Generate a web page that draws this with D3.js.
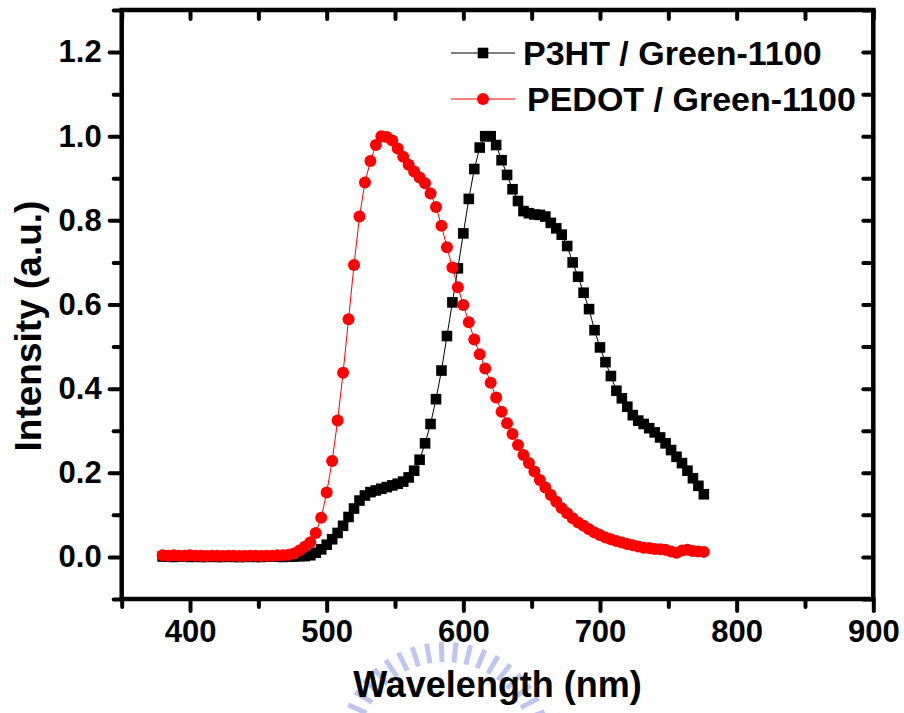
<!DOCTYPE html>
<html lang="en">
<head>
<meta charset="UTF-8">
<script src="https://d3js.org/d3.v7.min.js"></script>
<title>PL spectra</title>
<style>
    body { margin: 0; background: white; }
    svg { display: block; }
    .axis text {
        font-family: "Liberation Sans", Arial, sans-serif;
        font-weight: bold;
        font-size: 31px;
        fill: black;
    }
    .axis line { stroke: black; stroke-width: 4; stroke-linecap: round; }
    .axis path { display: none; }
    .title, .legend text {
        font-family: "Liberation Sans", Arial, sans-serif;
        font-weight: bold;
        fill: black;
    }
</style>
</head>
<body>
<svg></svg>
<script>
// wavelength grid (nm)
const wavelength = [
    380, 384, 388, 392, 396, 400, 404, 408, 412, 416, 420, 424, 428, 432, 436, 440, 444, 448, 452, 456,
    460, 464, 468, 472, 476, 480, 484, 488, 492, 496, 500, 504, 508, 512, 516, 520, 524, 528, 532, 536,
    540, 544, 548, 552, 556, 560, 564, 568, 572, 576, 580, 584, 588, 592, 596, 600, 604, 608, 612, 616,
    620, 624, 628, 632, 636, 640, 644, 648, 652, 656, 660, 664, 668, 672, 676, 680, 684, 688, 692, 696,
    700, 704, 708, 712, 716, 720, 724, 728, 732, 736, 740, 744, 748, 752, 756, 760, 764, 768, 772, 776
];
// P3HT / Green-1100 (black squares)
const p3ht = [
    0.001, 0.001, 0.000, 0.001, 0.001, 0.000, 0.001, 0.000, 0.000, 0.001, 0.000, 0.000, 0.001, 0.000, 0.000, 0.000, 0.001, 0.000, 0.000, 0.001,
    0.001, 0.001, 0.000, 0.001, 0.001, 0.002, 0.002, 0.004, 0.010, 0.018, 0.029, 0.042, 0.057, 0.074, 0.095, 0.115, 0.134, 0.146, 0.154, 0.158,
    0.162, 0.166, 0.170, 0.174, 0.179, 0.189, 0.205, 0.231, 0.270, 0.316, 0.375, 0.443, 0.525, 0.605, 0.686, 0.769, 0.851, 0.922, 0.973, 1.000,
    1.000, 0.979, 0.943, 0.908, 0.874, 0.846, 0.822, 0.817, 0.814, 0.813, 0.809, 0.794, 0.781, 0.766, 0.739, 0.700, 0.666, 0.628, 0.589, 0.539,
    0.498, 0.463, 0.430, 0.395, 0.377, 0.357, 0.337, 0.324, 0.316, 0.306, 0.296, 0.284, 0.270, 0.254, 0.238, 0.223, 0.205, 0.187, 0.169, 0.149
];
// PEDOT / Green-1100 (red circles)
const pedot = [
    0.004, 0.003, 0.004, 0.003, 0.003, 0.004, 0.003, 0.003, 0.002, 0.003, 0.003, 0.002, 0.003, 0.003, 0.002, 0.002, 0.003, 0.003, 0.002, 0.003,
    0.003, 0.004, 0.004, 0.005, 0.008, 0.015, 0.024, 0.035, 0.057, 0.093, 0.153, 0.228, 0.324, 0.438, 0.565, 0.694, 0.809, 0.890, 0.941, 0.979,
    1.000, 0.998, 0.990, 0.971, 0.951, 0.932, 0.916, 0.902, 0.888, 0.864, 0.832, 0.787, 0.736, 0.688, 0.641, 0.599, 0.558, 0.517, 0.482, 0.448,
    0.414, 0.379, 0.345, 0.318, 0.292, 0.266, 0.242, 0.223, 0.203, 0.183, 0.165, 0.147, 0.131, 0.116, 0.104, 0.092, 0.082, 0.074, 0.066, 0.058,
    0.052, 0.046, 0.042, 0.038, 0.034, 0.031, 0.028, 0.025, 0.022, 0.021, 0.019, 0.018, 0.017, 0.013, 0.010, 0.015, 0.017, 0.014, 0.013, 0.012
];
const seriesNames = ["P3HT / Green-1100", "PEDOT / Green-1100"];

const xTicks = [400, 500, 600, 700, 800, 900];
const xMinor = [350, 450, 550, 650, 750, 850];
const yTicks = [0.0, 0.2, 0.4, 0.6, 0.8, 1.0, 1.2];
const yMinor = [-0.1, 0.1, 0.3, 0.5, 0.7, 0.9, 1.1, 1.3];

const w = 904;
const h = 713;
const plotLeft = 121.7, plotRight = 873.3, plotTop = 10, plotBottom = 599;

const svg = d3.select("svg").attr("width", w).attr("height", h);

// faint watermark behind the x title
const wm = svg.append("g").attr("transform", "translate(445,748)");
d3.range(196, 346, 8).forEach(function(a){
    const r = a * Math.PI / 180;
    wm.append("line")
      .attr("x1", 86 * Math.cos(r)).attr("y1", 86 * Math.sin(r))
      .attr("x2", 106 * Math.cos(r)).attr("y2", 106 * Math.sin(r))
      .attr("stroke", "#a3ade9").attr("stroke-width", 5).attr("opacity", 0.7);
});

const x = d3.scaleLinear().domain([350, 900]).range([plotLeft, plotRight]);
const y = d3.scaleLinear().domain([-0.1, 1.3]).range([plotBottom, plotTop]);

// bottom axis
svg.append("g").attr("class", "axis").attr("transform", "translate(0," + plotBottom + ")")
   .call(d3.axisBottom(x).tickValues(xTicks).tickSize(12).tickPadding(9).tickFormat(d3.format("d")));
svg.append("g").attr("class", "axis").attr("transform", "translate(0," + plotBottom + ")")
   .call(d3.axisBottom(x).tickValues(xMinor).tickSize(8).tickFormat(""));
// left axis
svg.append("g").attr("class", "axis").attr("transform", "translate(" + plotLeft + ",0)")
   .call(d3.axisLeft(y).tickValues(yTicks).tickSize(12).tickPadding(8).tickFormat(d3.format(".1f")));
svg.append("g").attr("class", "axis").attr("transform", "translate(" + plotLeft + ",0)")
   .call(d3.axisLeft(y).tickValues(yMinor).tickSize(8).tickFormat(""));
// top and right: inward ticks, no labels
svg.append("g").attr("class", "axis").attr("transform", "translate(0," + plotTop + ")")
   .call(d3.axisTop(x).tickValues(xTicks.concat(xMinor)).tickSize(-9).tickFormat(""));
svg.append("g").attr("class", "axis").attr("transform", "translate(" + plotRight + ",0)")
   .call(d3.axisRight(y).tickValues(yTicks.concat(yMinor)).tickSize(-10).tickFormat(""));

// frame
svg.append("rect")
   .attr("x", plotLeft).attr("y", plotTop)
   .attr("width", plotRight - plotLeft).attr("height", plotBottom - plotTop)
   .attr("fill", "none").attr("stroke", "black").attr("stroke-width", 4.5);

const line = d3.line().x((d) => x(d[0])).y((d) => y(d[1]));
const blackPts = wavelength.map((d, i) => [d, p3ht[i]]);
const redPts = wavelength.map((d, i) => [d, pedot[i]]);

// black squares
svg.append("path").datum(blackPts).attr("d", line)
   .attr("fill", "none").attr("stroke", "black").attr("stroke-width", 1);
svg.selectAll("rect.sq")
   .data(blackPts)
   .enter()
   .append("rect")
   .attr("class", "sq")
   .attr("x", (d) => x(d[0]) - 5.3)
   .attr("y", (d) => y(d[1]) - 5.3)
   .attr("width", 10.6)
   .attr("height", 10.6)
   .attr("fill", "black");

// red circles
svg.append("path").datum(redPts).attr("d", line)
   .attr("fill", "none").attr("stroke", "red").attr("stroke-width", 1);
svg.selectAll("circle.dot")
   .data(redPts)
   .enter()
   .append("circle")
   .attr("class", "dot")
   .attr("cx", (d) => x(d[0]))
   .attr("cy", (d) => y(d[1]))
   .attr("r", 6)
   .attr("fill", "red");

// legend
const legend = svg.append("g").attr("class", "legend");
const legY = [53, 99];
const legColors = ["black", "red"];
const legTextX = [523, 527];
seriesNames.forEach(function(name, i){
    legend.append("line").attr("x1", 451).attr("x2", 515).attr("y1", legY[i]).attr("y2", legY[i])
          .attr("stroke", legColors[i]).attr("stroke-width", 1);
    if(i === 0){
        legend.append("rect").attr("x", 483 - 5.3).attr("y", legY[i] - 5.3)
              .attr("width", 10.6).attr("height", 10.6).attr("fill", "black");
    }
    else{
        legend.append("circle").attr("cx", 483).attr("cy", legY[i]).attr("r", 6).attr("fill", "red");
    }
    legend.append("text").attr("x", legTextX[i]).attr("y", legY[i] + 12)
          .style("font-size", "34px").text(name);
});

// axis titles
svg.append("text").attr("class", "title")
   .attr("x", (plotLeft + plotRight) / 2).attr("y", 697)
   .attr("text-anchor", "middle").style("font-size", "36px")
   .text("Wavelength (nm)");
svg.append("text").attr("class", "title")
   .attr("transform", "translate(41,326) rotate(-90)")
   .attr("text-anchor", "middle").style("font-size", "37px")
   .text("Intensity (a.u.)");
</script>
</body>
</html>
